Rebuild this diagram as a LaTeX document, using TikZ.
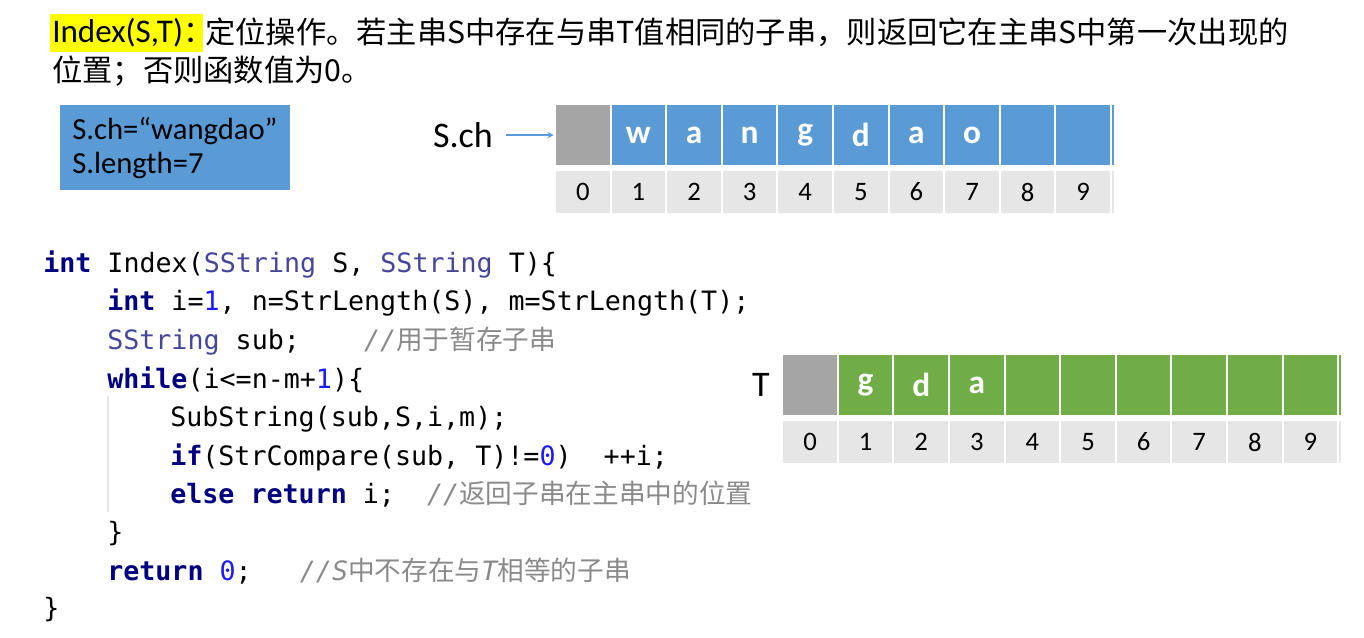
\documentclass[tikz,border=0pt]{standalone}
\usepackage{fontspec}
\setmainfont{Carlito}
\setmonofont{DejaVu Sans Mono}
\newfontfamily\cjk{Noto Sans CJK SC}

\definecolor{sblue}{HTML}{5B9BD5}
\definecolor{tgreen}{HTML}{70AD47}
\definecolor{cgray}{HTML}{A5A5A5}
\definecolor{idxgray}{HTML}{E7E6E6}
\definecolor{hlyellow}{HTML}{FFFF00}
\definecolor{kwnavy}{HTML}{000080}
\definecolor{tyviolet}{HTML}{45459A}
\definecolor{numblue}{HTML}{1A1AFF}
\definecolor{cmtgray}{HTML}{8A8A8A}

\newcommand{\kw}[1]{\textbf{\textcolor{kwnavy}{#1}}}
\newcommand{\ty}[1]{\textcolor{tyviolet}{#1}}
\newcommand{\nm}[1]{\textcolor{numblue}{#1}}
\newcommand{\cmt}[1]{\textcolor{cmtgray}{#1}}

\tikzset{
  cell/.style={minimum width=40.2pt,minimum height=44.6pt,inner sep=0pt,
    text=white,font=\bfseries\fontsize{25}{25}\selectfont},
  idx/.style={minimum width=40.2pt,minimum height=31.9pt,inner sep=0pt,
    fill=idxgray,font=\fontsize{20}{20}\selectfont},
  code/.style={anchor=base west,inner sep=0pt,font=\ttfamily\fontsize{20}{24}\selectfont},
  lbl/.style={inner sep=0pt,font=\fontsize{27}{27}\selectfont},
  desc/.style={anchor=base west,inner sep=0pt,font=\cjk\fontsize{22.7}{28}\selectfont},
}

\begin{document}
\begin{tikzpicture}[x=0.75pt,y=-0.75pt]
  \useasboundingbox (0,0) rectangle (1364,637);

  % header
  \node[fill=hlyellow,anchor=west,inner xsep=1.5pt,text width=111.75pt,align=left,
    minimum height=28.5pt,font=\fontsize{24.8}{28}\selectfont] (hdr) at (50,33)
    {Index(S,T){\cjk\fontsize{22.7}{28}\selectfont ：}};
  \node[desc] (desc1) at (205,43)
    {定位操作。若主串S中存在与串T值相同的子串，则返回它在主串S中第一次出现的};
  \node[desc] (desc2) at (52,81) {位置；否则函数值为0。};

  % info box
  \node[fill=sblue,anchor=north west,text width=154.5pt,inner xsep=9pt,
    minimum height=63.75pt,align=left,font=\fontsize{23}{25.5}\selectfont] (info) at (60,105)
    {S.ch=“wangdao”\\S.length=7};

  % S array
  \node[lbl] (sch) at (463,135) {S.ch};
  \node[cell,fill=cgray] (s0) at (582.8,135) {};
  \foreach \c [count=\i] in {w,a,n,g,d,a,o,{},{}}
    \node[cell,fill=sblue] (s\i) at ({582.8+55.6*\i},135) {\c};
  \foreach \i in {0,...,9}
    \node[idx] (si\i) at ({582.8+55.6*\i},192) {\i};
  \fill[sblue] (1111.5,105.3) rectangle (1114,164.7);
  \fill[idxgray] (1111.5,170.7) rectangle (1114,213.3);
  \draw[sblue,line width=1.1pt,-stealth,shorten <=10pt,shorten >=1.5pt] (sch.east) -- (s0.west);

  % T array
  \node[lbl] (tl) at (761,385) {T};
  \node[cell,fill=cgray] (t0) at (810,385) {};
  \foreach \c [count=\i] in {g,d,a,{},{},{},{},{},{}}
    \node[cell,fill=tgreen] (t\i) at ({810+55.6*\i},385) {\c};
  \foreach \i in {0,...,9}
    \node[idx] (ti\i) at ({810+55.6*\i},442) {\i};
  \fill[tgreen] (1338.7,355.3) rectangle (1341.2,414.7);
  \fill[idxgray] (1338.7,420.7) rectangle (1341.2,463.3);

  % code
  \draw[idxgray,line width=0.8pt] (108,396) -- (108,512);
  \node[code] (l1) at (43,272) {\kw{int} Index(\ty{SString} S, \ty{SString} T)\{};
  \node[code] (l2) at (107,310) {\kw{int} i=\nm{1}, n=StrLength(S), m=StrLength(T);};
  \node[code] (l3) at (107,349) {\ty{SString} sub;~~~~\cmt{\itshape//}\cmt{\cjk 用于暂存子串}};
  \node[code] (l4) at (107,388) {\kw{while}(i<=n-m+\nm{1})\{};
  \node[code] (l5) at (170,426) {SubString(sub,S,i,m);};
  \node[code] (l6) at (170,465) {\kw{if}(StrCompare(sub, T)!=\nm{0})~~++i;};
  \node[code] (l7) at (170,503) {\kw{else} \kw{return} i;~~\cmt{\itshape//}\cmt{\cjk 返回子串在主串中的位置}};
  \node[code] (l8) at (107,541) {\}};
  \node[code] (l9) at (107,580) {\kw{return} \nm{0};~~~\cmt{\itshape//S}\cmt{\cjk 中不存在与}\cmt{\itshape T}\cmt{\cjk 相等的子串}};
  \node[code] (l10) at (43,617) {\}};
\end{tikzpicture}
\end{document}
